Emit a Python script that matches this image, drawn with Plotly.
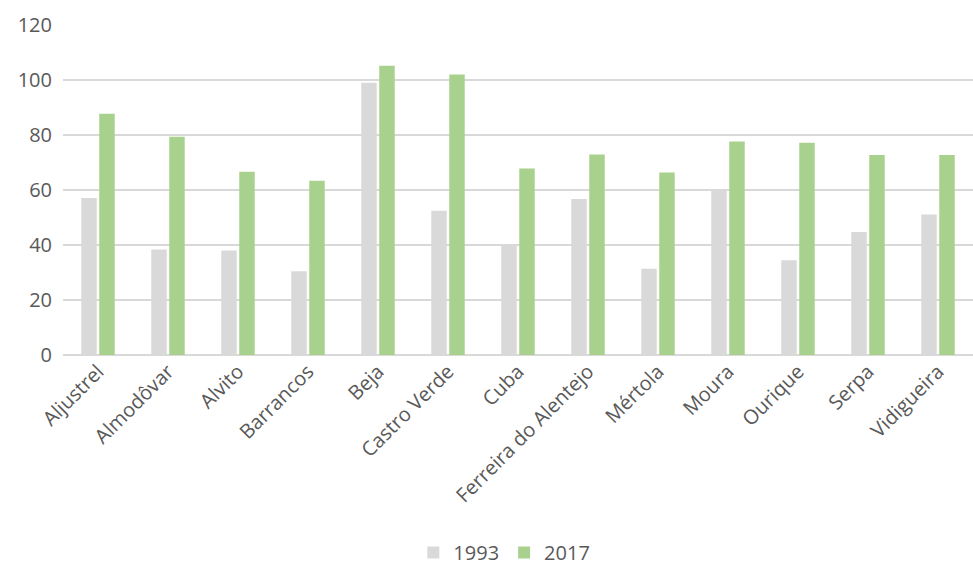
import plotly.graph_objects as go

categories = ["Aljustrel", "Almodôvar", "Alvito", "Barrancos", "Beja", "Castro Verde",
              "Cuba", "Ferreira do Alentejo", "Mértola", "Moura", "Ourique", "Serpa", "Vidigueira"]
values_1993 = [57.1, 38.4, 38.0, 30.5, 99.0, 52.5, 40.4, 56.7, 31.4, 60.4, 34.5, 44.7, 51.1]
values_2017 = [87.7, 79.4, 66.6, 63.4, 105.2, 102.0, 67.8, 72.9, 66.4, 77.6, 77.2, 72.7, 72.7]
y_ticks = [0, 20, 40, 60, 80, 100, 120]

font_family = "Open Sans, sans-serif"
text_color = "#595959"

fig = go.Figure()
fig.add_trace(go.Bar(x=categories, y=values_1993, name="1993",
                     marker=dict(color="#d9d9d9", line=dict(width=0))))
fig.add_trace(go.Bar(x=categories, y=values_2017, name="2017",
                     marker=dict(color="#a9d18e", line=dict(width=0))))

fig.update_layout(
    width=973, height=572,
    margin=dict(l=63, r=0, t=25, b=215),
    paper_bgcolor="white", plot_bgcolor="white",
    barmode="group", bargap=0.486, bargroupgap=0.14,
    font=dict(family=font_family, size=20, color=text_color),
    showlegend=True,
    legend=dict(orientation="h", x=0.485, xanchor="center", y=-0.6, yanchor="middle",
                font=dict(size=20, color=text_color), itemwidth=30,
                traceorder="normal"),
    xaxis=dict(tickangle=-45, showgrid=False, showline=False, ticks="",
               tickfont=dict(size=20, color=text_color)),
    yaxis=dict(range=[0, 120], tickvals=y_ticks, showgrid=True, gridcolor="#d9d9d9",
               gridwidth=1.5, zeroline=True, zerolinecolor="#d9d9d9", zerolinewidth=1.5,
               showline=False, ticks="", tickfont=dict(size=20, color=text_color),
               ticklabelstandoff=10),
)

fig.write_html("out.html")
